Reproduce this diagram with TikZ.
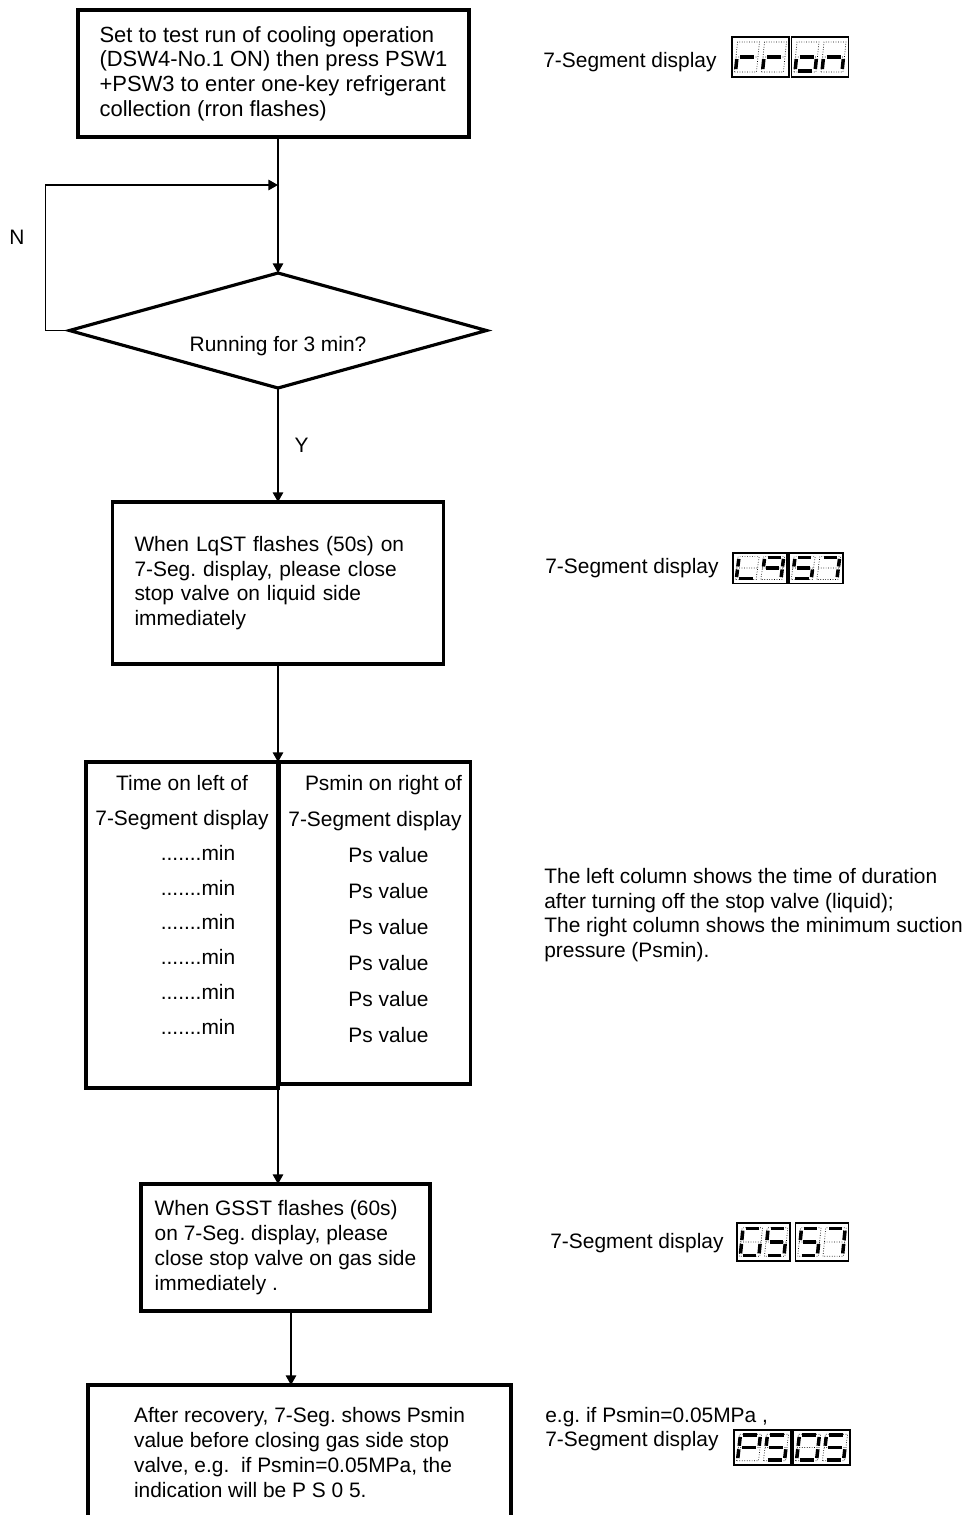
\documentclass[tikz,border=0pt]{standalone}
\usepackage{fontspec}
\setmainfont{Liberation Sans}
\usetikzlibrary{positioning,shapes.geometric,arrows.meta}
\frenchspacing

\newcommand{\boxfont}{\fontsize{11.9}{14.1}\selectfont}
\newcommand{\topfont}{\fontsize{12.5}{14.1}\selectfont}
\newcommand{\leftfont}{\fontsize{11.9}{19.8}\selectfont}
\newcommand{\rightfont}{\fontsize{11.9}{20.5}\selectfont}

% one digit of the display: dotted outline, lit segments drawn thick
\newcommand{\segdigit}[2]{%
  \begin{scope}[xshift=#1cm, xslant=0.1]
    \draw[segoff] (-0.22,-0.3) rectangle (0.22,0.3) (-0.22,0) -- (0.22,0);
    \foreach \s in {#2} \draw[segon] (0,0) [seg\s];
  \end{scope}}
% one frame with two digits
\newcommand{\segbox}[4]{%
  \begin{scope}[shift={#1}, #2]
    \draw[segframe] (-0.57,-0.4) rectangle (0.57,0.4);
    \segdigit{-0.27}{#3}
    \segdigit{0.27}{#4}
  \end{scope}}

\tikzset{
  sega/.style={insert path={(-0.14,0.28) -- (0.14,0.28)}},
  segb/.style={insert path={(0.2,0.24) -- (0.2,0.04)}},
  segc/.style={insert path={(0.2,-0.04) -- (0.2,-0.24)}},
  segd/.style={insert path={(-0.14,-0.28) -- (0.14,-0.28)}},
  sege/.style={insert path={(-0.2,-0.04) -- (-0.2,-0.24)}},
  segf/.style={insert path={(-0.2,0.24) -- (-0.2,0.04)}},
  segg/.style={insert path={(-0.14,0) -- (0.14,0)}}
}

\begin{document}
\begin{tikzpicture}[
  box/.style={draw, line width=1.8pt, outer sep=0pt, align=left, font=\boxfont},
  decision/.style={diamond, draw, line width=1.8pt, outer sep=0pt, minimum width=8.34cm, minimum height=2.3cm, aspect=3.6, inner sep=0pt, font=\boxfont},
  column/.style={draw, line width=1.8pt, outer sep=0pt, inner sep=0pt},
  note/.style={anchor=west, inner sep=0pt, align=left, font=\boxfont},
  arr/.style={-{Triangle[length=5.5pt,width=6pt]}, line width=0.8pt},
  segframe/.style={line width=0.8pt},
  segoff/.style={densely dotted, line width=0.4pt},
  segon/.style={line width=2pt}
]
\useasboundingbox (0,0) rectangle (19.36,-30.3);

% flow
\node[box, minimum width=7.82cm, minimum height=2.54cm, font=\topfont] (setup) at (5.47,-1.47) {Set to test run of cooling operation\\(DSW4-No.1 ON) then press PSW1\\+PSW3 to enter one-key refrigerant\\collection (rron flashes)};
\node[decision, text height=0.82cm, text depth=0pt, below=2.72cm of setup, xshift=0.09cm] (running) {Running for 3 min?};
\node[box, text width=5.74cm, inner xsep=0.44cm, minimum height=3.24cm, below=2.28cm of running] (liquid) {When LqST flashes (50s) on\\7-Seg. display, please close\\stop valve on liquid side\\immediately};
\node[column, below left=1.96cm and 0cm of liquid.south] (tleft) {\parbox[c][6.52cm][t]{3.84cm}{\leftfont\centering\vspace*{0.27cm}%
  Time on left of\\7-Segment display\\
  \hspace*{0.64cm}.......min\\ \hspace*{0.64cm}.......min\\ \hspace*{0.64cm}.......min\\
  \hspace*{0.64cm}.......min\\ \hspace*{0.64cm}.......min\\ \hspace*{0.64cm}.......min}};
\node[column, below right=1.96cm and 0.03cm of liquid.south] (tright) {\parbox[c][6.44cm][t]{3.82cm}{\rightfont\centering\vspace*{0.27cm}%
  \hspace*{0.34cm}Psmin on right of\\7-Segment display\\
  \hspace*{0.54cm}Ps value\\ \hspace*{0.54cm}Ps value\\ \hspace*{0.54cm}Ps value\\
  \hspace*{0.54cm}Ps value\\ \hspace*{0.54cm}Ps value\\ \hspace*{0.54cm}Ps value}};
\node[box, minimum width=5.78cm, minimum height=2.54cm, below=1.92cm of tleft.south east, xshift=0.15cm] (gas) {When GSST flashes (60s)\\on 7-Seg. display, please\\close stop valve on gas side\\immediately .};
\node[box, minimum width=8.46cm, minimum height=2.7cm, below=1.48cm of gas, xshift=0.28cm] (result) {After recovery, 7-Seg. shows Psmin\\value before closing gas side stop\\valve, e.g.\ \ if Psmin=0.05MPa, the\\indication will be P S 0 5.};

\draw[arr] (setup.south -| running.north) -- (running.north);
\coordinate[below=0.96cm of setup.south] (loopin);
\draw[arr] (running.west) -- ++(-0.48,0) |- (loopin -| running.north);
\node[font=\boxfont] (nmark) at (0.34,-4.74) {N};
\draw[arr] (running.south) -- node[right=0.2cm, font=\boxfont] (ymark) {Y} (liquid.north);
\draw[arr] (liquid.south) -- (tleft.north east);
\draw[arr] (tleft.south east) -- (tleft.south east |- gas.north);
\draw[arr] ([xshift=0.11cm]gas.south) -- ([xshift=0.11cm]gas.south |- result.north);

% notes on the right
\node[note] (rronnote) at (10.86,-1.24) {7-Segment display};
\node[note] (lqstnote) at (10.9,-11.36) {7-Segment display};
\node[note] (colnote) at (10.88,-18.3) {The left column shows the time of duration\\after turning off the stop valve (liquid);\\The right column shows the minimum suction\\pressure (Psmin).};
\node[note] (gsstnote) at (11.0,-24.86) {7-Segment display};
\node[note] (psnote) at (10.9,-28.58) {e.g. if Psmin=0.05MPa ,\\7-Segment display};

% displays
\segbox{(15.21,-1.14)}{}{e,g}{e,g}
\segbox{(16.40,-1.14)}{}{c,d,e,g}{c,e,g}
\segbox{(15.20,-11.36)}{xscale=0.95, yscale=0.76}{d,e,f}{a,b,c,f,g}
\segbox{(16.32,-11.36)}{xscale=0.95, yscale=0.76}{a,c,d,f,g}{a,b,c}
\segbox{(15.27,-24.84)}{xscale=0.93, yscale=0.95}{a,c,d,e,f}{a,c,d,f,g}
\segbox{(16.44,-24.84)}{xscale=0.93, yscale=0.95}{a,c,d,f,g}{a,b,c}
\segbox{(15.25,-28.95)}{yscale=0.88}{a,b,e,f,g}{a,c,d,f,g}
\segbox{(16.43,-28.95)}{yscale=0.88}{a,b,c,d,e,f}{a,c,d,f,g}
\end{tikzpicture}
\end{document}
